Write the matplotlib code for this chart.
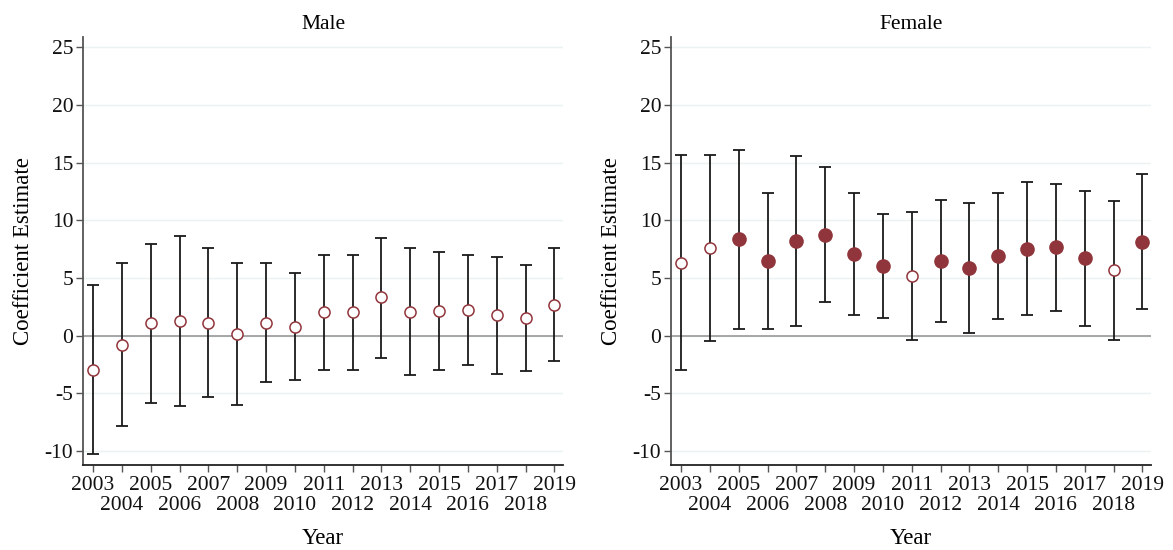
import matplotlib
matplotlib.use("Agg")
import matplotlib.pyplot as plt
import numpy as np

years = list(range(2003, 2020))

male_coef = [-2.95, -0.78, 1.07, 1.30, 1.15, 0.17, 1.15, 0.75, 2.02, 2.02, 3.32, 2.08, 2.14, 2.22, 1.76, 1.53, 2.66]
male_upper = [4.40, 6.27, 7.97, 8.67, 7.63, 6.33, 6.33, 5.40, 6.96, 7.02, 8.52, 7.60, 7.25, 6.96, 6.79, 6.15, 7.57]
male_lower = [-10.25, -7.80, -5.86, -6.07, -5.34, -6.04, -4.00, -3.84, -2.98, -3.00, -1.90, -3.44, -2.95, -2.57, -3.35, -3.09, -2.22]

female_coef = [6.33, 7.57, 8.37, 6.50, 8.23, 8.72, 7.08, 6.04, 5.17, 6.47, 5.84, 6.90, 7.54, 7.71, 6.70, 5.66, 8.17]
female_upper = [15.63, 15.66, 16.10, 12.39, 15.57, 14.59, 12.36, 10.54, 10.72, 11.81, 11.47, 12.34, 13.32, 13.20, 12.57, 11.70, 14.04]
female_lower = [-2.98, -0.46, 0.60, 0.60, 0.87, 2.89, 1.82, 1.50, -0.35, 1.16, 0.20, 1.47, 1.76, 2.19, 0.81, -0.40, 2.34]

yticks = [-10, -5, 0, 5, 10, 15, 20, 25]
panel_titles = ["Male", "Female"]

plt.rcParams['font.family'] = ['Liberation Serif', 'DejaVu Serif']

MARK = '#90353B'
GRID = '#eaf2f3'
SPINE = '#555555'
FS_TICK = 15.5
FS_LAB = 16.5

fig = plt.figure(figsize=(11.73, 5.5), dpi=100)
axes = [fig.add_axes([83/1173, 1 - 465/550, 480/1173, 428/550]),
        fig.add_axes([671/1173, 1 - 465/550, 480/1173, 428/550])]

data = [(male_coef, male_lower, male_upper), (female_coef, female_lower, female_upper)]

top_years = years[0::2]
bottom_years = years[1::2]

for ax, (coef, lo, hi), title in zip(axes, data, panel_titles):
    coef = np.array(coef); lo = np.array(lo); hi = np.array(hi)
    x = np.array(years)
    for yt in yticks:
        ax.axhline(yt, color=GRID, lw=1.0, zorder=0)
    ax.axhline(0, color='#999999', lw=1.2, zorder=1)
    ax.errorbar(x, coef, yerr=[coef - lo, hi - coef], fmt='none', ecolor='#1a1a1a',
                elinewidth=1.3, capsize=4, capthick=1.3, zorder=2)
    sig = (lo > 0) | (hi < 0)
    ax.plot(x[~sig], coef[~sig], 'o', ms=8, mfc='white', mec=MARK, mew=1.1, zorder=3)
    ax.plot(x[sig], coef[sig], 'o', ms=9.5, mfc=MARK, mec=MARK, mew=1.0, zorder=3)

    ax.set_xlim(2002.65, 2019.3)
    ax.set_ylim(-11.2, 25.9)
    ax.set_yticks(yticks)
    ax.set_yticklabels([str(t) for t in yticks])
    ax.set_xticks(top_years)
    ax.set_xticklabels([str(y) for y in top_years])
    ax.set_xticks(bottom_years, minor=True)
    ax.set_xticklabels([str(y) for y in bottom_years], minor=True)
    ax.tick_params(axis='both', which='both', labelsize=FS_TICK, colors='#111111', length=5, width=1.0)
    ax.tick_params(axis='x', which='major', pad=3, color=SPINE)
    ax.tick_params(axis='x', which='minor', pad=17, color=SPINE)
    ax.tick_params(axis='y', pad=2, color=SPINE)
    for s in ['top', 'right']:
        ax.spines[s].set_visible(False)
    ax.spines['left'].set_color(SPINE)
    ax.spines['bottom'].set_color('#222222')
    ax.spines['left'].set_linewidth(1.3)
    ax.spines['bottom'].set_linewidth(1.3)
    ax.set_title(title, fontsize=FS_TICK, pad=6)
    ax.set_ylabel("Coefficient Estimate", fontsize=FS_LAB, labelpad=8)
    ax.set_xlabel("Year", fontsize=FS_LAB, labelpad=10)

fig.savefig("out.png", dpi=100, facecolor='white')
